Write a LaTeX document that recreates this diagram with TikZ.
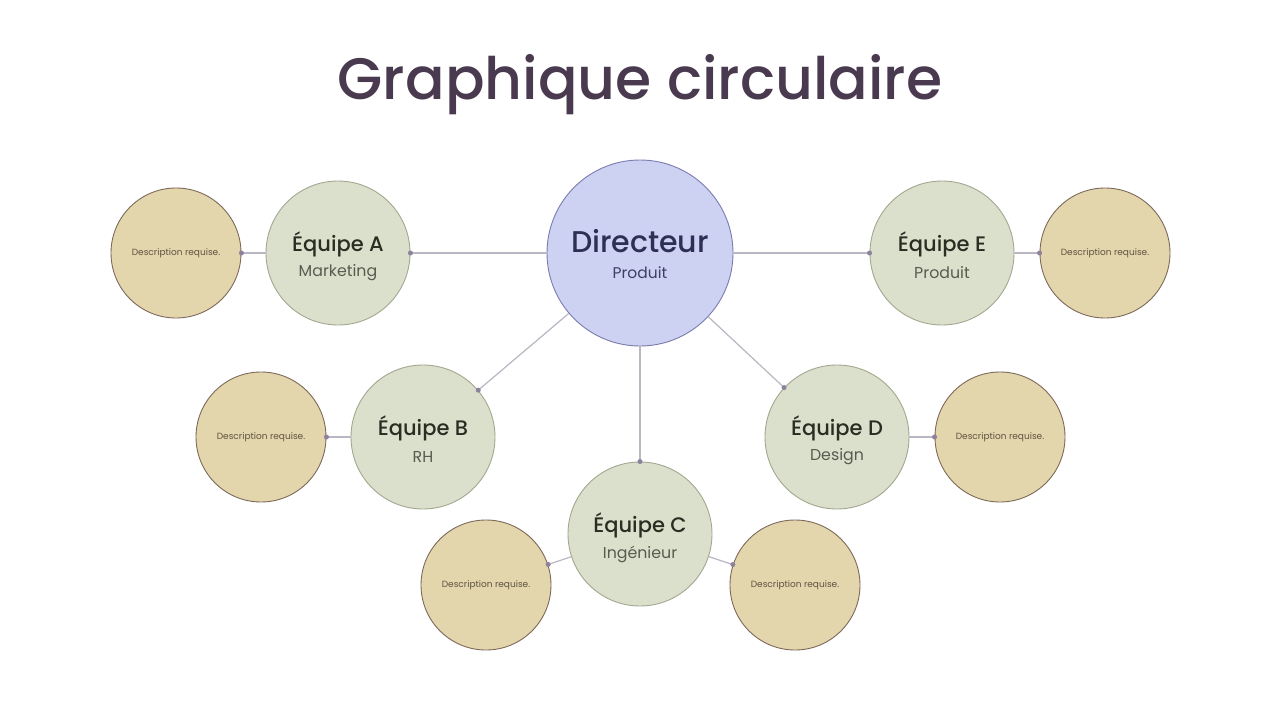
\documentclass[tikz,border=0pt]{standalone}
\usepackage{fontspec}
\setmainfont{Poppins}
\newfontfamily\popmed{Poppins Medium}
\begin{document}
\begin{tikzpicture}[x=1pt,y=-1pt,
  dircirc/.style={circle, draw=dirB, fill=dirF, line width=0.9pt, minimum size=186pt, inner sep=0pt, align=center},
  teamcirc/.style={circle, draw=teamB, fill=teamF, line width=0.9pt, minimum size=144pt, inner sep=0pt, align=center},
  desccirc/.style={circle, draw=descB, fill=descF, line width=0.9pt, minimum size=130pt, inner sep=0pt, align=center, font=\fontsize{9}{11}\selectfont, text=descT},
  conn/.style={draw=connC, line width=1.2pt},
  dotn/.style={circle, fill=dotC, inner sep=0pt, minimum size=5pt},
  teamtitle/.style={font=\popmed\fontsize{21}{24}\selectfont, text=teamT},
  teamsub/.style={font=\fontsize{15.8}{18}\selectfont, text=teamS}
]
\definecolor{dirB}{HTML}{7B7CAD}
\definecolor{dirF}{HTML}{CDD1F2}
\definecolor{teamB}{HTML}{A4A78F}
\definecolor{teamF}{HTML}{DBE0CC}
\definecolor{descB}{HTML}{7D6A5A}
\definecolor{descF}{HTML}{E3D5AC}
\definecolor{descT}{HTML}{5E5442}
\definecolor{connC}{HTML}{BAB6C2}
\definecolor{dotC}{HTML}{8E819B}
\definecolor{teamT}{HTML}{2A2E22}
\definecolor{teamS}{HTML}{575C50}
\definecolor{titleC}{HTML}{4A3A4F}
\definecolor{dirT}{HTML}{2E2F55}
\definecolor{dirS}{HTML}{3E3F62}
\useasboundingbox[fill=white] (0,0) rectangle (1280,720);

\node[font=\popmed\fontsize{58.5}{64}\selectfont, text=titleC] (title) at (640,85) {Graphique circulaire};

\node[dircirc] (dir) at (640,253) {};
\node[font=\popmed\fontsize{30}{34}\selectfont, text=dirT] (dirt) at (640,241) {Directeur};
\node[font=\fontsize{15.5}{18}\selectfont, text=dirS] (dirs) at (640,273) {Produit};

\node[teamcirc] (A) at (338,253) {};
\node[teamcirc] (E) at (942,253) {};
\node[teamcirc] (B) at (423,437) {};
\node[teamcirc] (D) at (837,437) {};
\node[teamcirc] (C) at (640,534) {};

\node[desccirc] (dA) at (176,253) {Description requise.};
\node[desccirc] (dE) at (1105,253) {Description requise.};
\node[desccirc] (dB) at (261,437) {Description requise.};
\node[desccirc] (dD) at (1000,437) {Description requise.};
\node[desccirc] (dCL) at (486,585) {Description requise.};
\node[desccirc] (dCR) at (795,585) {Description requise.};

\foreach \n/\t/\s in {A/A/Marketing, E/E/Produit, B/B/RH, D/D/Design, C/C/Ingénieur}{
  \node[teamtitle] (\n t) at ([yshift=9pt]\n.center) {Équipe \t};
  \node[teamsub] (\n s) at ([yshift=-20pt]\n.center) {\s};
}

\draw[conn] (dir) -- (A) node[dotn,pos=1] {};
\draw[conn] (dir) -- (E) node[dotn,pos=1] {};
\draw[conn] (dir) -- (B) node[dotn,pos=1] {};
\draw[conn] (dir) -- (D) node[dotn,pos=1] {};
\draw[conn] (dir) -- (C) node[dotn,pos=1] {};
\draw[conn] (A) -- (dA) node[dotn,pos=1] {};
\draw[conn] (E) -- (dE) node[dotn,pos=1] {};
\draw[conn] (B) -- (dB) node[dotn,pos=1] {};
\draw[conn] (D) -- (dD) node[dotn,pos=1] {};
\draw[conn] (C) -- (dCL) node[dotn,pos=1] {};
\draw[conn] (C) -- (dCR) node[dotn,pos=1] {};
\end{tikzpicture}
\end{document}
